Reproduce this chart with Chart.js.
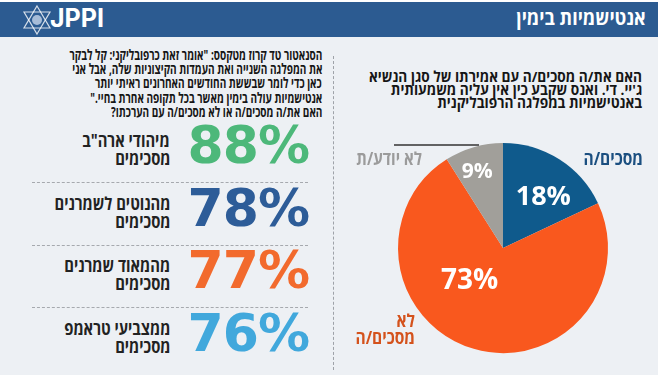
<!DOCTYPE html>
<html lang="he">
<head>
<meta charset="utf-8">
<script src="https://cdn.jsdelivr.net/npm/chart.js@4.4.1/dist/chart.umd.min.js"></script>
<style>
body{margin:0;width:658px;height:384px;background:#fff;position:relative;overflow:hidden;font-family:"Open Sans","Liberation Sans",sans-serif;}
#panel{position:absolute;left:0;top:2px;width:658px;height:373px;background:#edf0f4;}
#header{position:absolute;left:0;top:2px;width:658px;height:35px;background:#2c5b91;}
.t{position:absolute;white-space:nowrap;direction:rtl;font-weight:700;}
.t span{display:inline-block;transform-origin:right center;}
.big{position:absolute;white-space:nowrap;direction:ltr;font-family:"DejaVu Sans",sans-serif;font-weight:700;text-align:right;}
.sep{position:absolute;left:32px;width:276px;height:0;border-top:1px dashed #a6a9ae;}
#vsep{position:absolute;left:333px;top:56px;height:314px;width:0;border-left:1px dashed #9ea2a8;}
#pieBox{position:absolute;left:340px;top:130px;width:310px;height:240px;}
</style>
</head>
<body>
<div id="panel"></div>
<div id="header"></div>
<div id="vsep"></div>
<div id="pieBox"><canvas id="pie" width="310" height="240"></canvas></div>
<script>
// pie data
const pieLabels = ["מסכים/ה", "לא מסכים/ה", "לא יודע/ת"];
const pieValues = [18, 73, 9];
const pieColors = ["#0f5a8c", "#f9581e", "#a19f9a"];
const pieTextColors = ["#1b4f80", "#d4521c", "#9b9b9b"];

// left side groups
const groupLabels = ['מיהודי ארה"ב', "מהנוטים לשמרנים", "מהמאוד שמרנים", "ממצביעי טראמפ"];
const groupValues = [88, 78, 77, 76];
const groupColors = ["#4db87a", "#2d5c98", "#f26a2d", "#41a8dc"];

const title = "אנטישמיות בימין";
const quoteLines = [
    'הסנאטור טד קרוז מטקסס: "אומר זאת כרפובליקני: קל לבקר',
    "את המפלגה השנייה ואת העמדות הקיצוניות שלה, אבל אני",
    "כאן כדי לומר שבששת החודשים האחרונים ראיתי יותר",
    'אנטישמיות עולה בימין מאשר בכל תקופה אחרת בחיי."',
    "האם את/ה מסכים/ה או לא מסכים/ה עם הערכתו?"
];
const questionLines = [
    "האם את/ה מסכים/ה עם אמירתו של סגן הנשיא",
    "ג'יי. די. ואנס שקבע כין אין עליה משמעותית",
    "באנטישמיות במפלגה הרפובליקנית"
];

function addText(text, right, top, size, color, sx, family) {
    let d = document.createElement("div");
    d.className = "t";
    d.style.right = (658 - right) + "px";
    d.style.top = top + "px";
    d.style.fontSize = size + "px";
    d.style.lineHeight = size + "px";
    d.style.color = color;
    if (family) d.style.fontFamily = family;
    let s = document.createElement("span");
    s.textContent = text;
    s.style.transform = "scaleX(" + sx + ")";
    d.appendChild(s);
    document.body.appendChild(d);
    return d;
}

addText(title, 646, 8, 20, "#fff", 0.9);
addText("JPPI", 104, 6, 25, "#fff", 1, "Inter,sans-serif").style.direction = "ltr";

quoteLines.forEach((l, i) => addText(l, 322, 48 + i * 14.2, 14.5, "#161616", 0.69));
questionLines.forEach((l, i) => addText(l, 642, 69 + i * 13, 15, "#161616", 0.91));

groupLabels.forEach((l, i) => {
    let cy = 145 + i * 62.5;
    addText(l, 170, cy - 14, 18, "#222", 0.82);
    addText("מסכימים", 170, cy + 4, 18, "#222", 0.82);
    let b = document.createElement("div");
    b.className = "big";
    b.style.right = (658 - 309) + "px";
    b.style.top = (cy - 30) + "px";
    b.style.fontSize = "52px";
    b.style.lineHeight = "60px";
    b.style.letterSpacing = "-1px";
    b.style.color = groupColors[i];
    b.textContent = groupValues[i] + "%";
    document.body.appendChild(b);
    if (i < groupLabels.length - 1) {
        let s = document.createElement("div");
        s.className = "sep";
        s.style.top = (cy + 37) + "px";
        document.body.appendChild(s);
    }
});

// star of david for the logo
(function () {
    let c = document.createElement("canvas");
    c.width = 32; c.height = 32;
    c.style.cssText = "position:absolute;left:21px;top:4px;";
    let g = c.getContext("2d");
    g.strokeStyle = "rgba(255,255,255,0.8)";
    g.lineWidth = 1.2;
    [[16, 2, 29, 24, 3, 24], [16, 30, 29, 8, 3, 8]].forEach(p => {
        g.beginPath(); g.moveTo(p[0], p[1]); g.lineTo(p[2], p[3]); g.lineTo(p[4], p[5]); g.closePath(); g.stroke();
    });
    g.fillStyle = "rgba(220,230,245,0.7)";
    g.beginPath(); g.arc(16, 16, 5, 0, Math.PI * 2); g.fill();
    document.body.appendChild(c);
})();

// where the % labels sit inside each slice (fraction of the slice angle, fraction of radius)
const inAngle = [0.59, 0.61, 0.42];
const inRadius = [0.62, 0.45, 0.76];
const inSize = [27, 28, 21];

function narrowText(ctx, text, x, y, sx) {
    ctx.save();
    ctx.translate(x, y);
    ctx.scale(sx, 1);
    ctx.fillText(text, 0, 0);
    ctx.restore();
}

const pieText = {
    id: "pieText",
    afterDatasetsDraw(chart) {
        const ctx = chart.ctx;
        const arcs = chart.getDatasetMeta(0).data;
        const cx = arcs[0].x, cy = arcs[0].y, R = arcs[0].outerRadius;
        ctx.save();
        ctx.textAlign = "center";
        ctx.textBaseline = "middle";
        ctx.fillStyle = "#fff";
        arcs.forEach((a, i) => {
            let ang = a.startAngle + (a.endAngle - a.startAngle) * inAngle[i];
            let r = R * inRadius[i];
            ctx.font = "700 " + inSize[i] + 'px "Open Sans", sans-serif';
            ctx.fillText(pieValues[i] + "%", cx + Math.cos(ang) * r, cy + Math.sin(ang) * r);
        });
        // category names
        ctx.direction = "rtl";
        ctx.textAlign = "right";
        ctx.font = '700 18px "Open Sans", "Liberation Sans", sans-serif';
        ctx.fillStyle = pieTextColors[0];
        narrowText(ctx, pieLabels[0], cx + 140, cy - 88, 0.86);
        ctx.fillStyle = pieTextColors[2];
        narrowText(ctx, pieLabels[2], cx - 81, cy - 88, 0.84);
        ctx.fillStyle = pieTextColors[1];
        let parts = pieLabels[1].split(" ");
        narrowText(ctx, parts[0], cx - 88, cy + 74, 0.86);
        narrowText(ctx, parts[1], cx - 88, cy + 91, 0.86);
        ctx.strokeStyle = "#333";
        ctx.lineWidth = 1.5;
        ctx.beginPath();
        ctx.moveTo(cx - 109, cy - 103);
        ctx.lineTo(cx - 24, cy - 103);
        ctx.stroke();
        ctx.restore();
    }
};

new Chart(document.getElementById("pie"), {
    type: "pie",
    data: {
        labels: pieLabels,
        datasets: [{
            data: pieValues,
            backgroundColor: pieColors,
            borderWidth: 0
        }]
    },
    options: {
        responsive: false,
        animation: false,
        layout: { padding: { left: 58, right: 42, top: 13, bottom: 17 } },
        plugins: { legend: { display: false }, tooltip: { enabled: false } }
    },
    plugins: [pieText]
});
</script>
</body>
</html>
